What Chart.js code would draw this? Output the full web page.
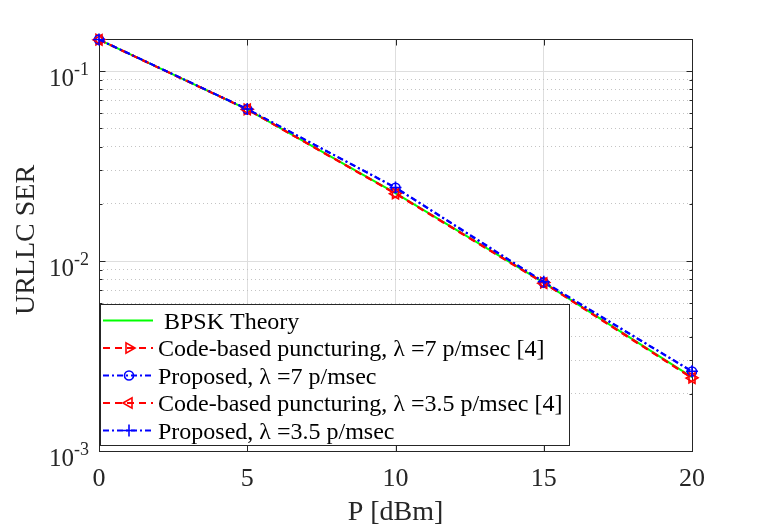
<!DOCTYPE html>
<html>
<head>
<meta charset="utf-8">
<script src="https://cdn.jsdelivr.net/npm/chart.js@4.4.1/dist/chart.umd.min.js"></script>
<style>body{margin:0;background:#fff}</style>
</head>
<body>
<canvas id="serChart" width="765" height="526"></canvas>
<script>
// values
const powerDbm = [0, 5, 10, 15, 20];
const bpskTheory = [0.1465, 0.0629, 0.0228, 0.00770, 0.00245];
const codeBased7 = [0.1465, 0.0629, 0.0227, 0.00770, 0.00243];
const proposed7 = [0.1465, 0.0630, 0.0243, 0.00772, 0.00262];
const codeBased35 = [0.1460, 0.0628, 0.0226, 0.00765, 0.00242];
const proposed35 = [0.1465, 0.0631, 0.0244, 0.00778, 0.00263];

const seriesLabels = [
  'BPSK Theory',
  'Code-based puncturing, \u03bb =7 p/msec [4]',
  'Proposed, \u03bb =7 p/msec',
  'Code-based puncturing, \u03bb =3.5 p/msec [4]',
  'Proposed, \u03bb =3.5 p/msec'
];
const xTickValues = [0, 5, 10, 15, 20];
const yDecades = [1e-3, 1e-2, 1e-1];
const yDecadeExponents = ['-3', '-2', '-1'];

const serif = '"Liberation Serif", "Times New Roman", serif';
const axisInk = '#262626';

const toPoints = arr => arr.map((v, i) => ({x: powerDbm[i], y: v}));

const isDecade = v => Math.abs(Math.log10(v) - Math.round(Math.log10(v))) < 1e-9;

const datasets = [
  {label: seriesLabels[0], data: toPoints(bpskTheory), borderColor: '#00ff00', borderWidth: 2,
   pointRadius: 0, borderDash: [], order: 5},
  {label: seriesLabels[1], data: toPoints(codeBased7), borderColor: '#ff0000', borderWidth: 2,
   borderDash: [7, 5], pointStyle: 'triangle', pointRotation: 90, pointRadius: 6, order: 4},
  {label: seriesLabels[2], data: toPoints(proposed7), borderColor: '#0000ff', borderWidth: 2,
   borderDash: [6, 3, 2, 3], pointStyle: 'circle', pointRadius: 4.5, order: 3},
  {label: seriesLabels[3], data: toPoints(codeBased35), borderColor: '#ff0000', borderWidth: 2,
   borderDash: [7, 5], pointStyle: 'triangle', pointRotation: -90, pointRadius: 6, order: 2},
  {label: seriesLabels[4], data: toPoints(proposed35), borderColor: '#0000ff', borderWidth: 2,
   borderDash: [6, 3, 2, 3], pointStyle: 'cross', pointRadius: 6, order: 1}
];
datasets.forEach(d => {
  d.pointBorderColor = d.borderColor;
  d.pointBackgroundColor = 'rgba(0,0,0,0)';
  d.pointBorderWidth = 1.6;
  d.tension = 0;
  d.clip = false;
});

// axes box, inward ticks, tick labels and titles
const matlabAxes = {
  id: 'matlabAxes',
  beforeDatasetsDraw(chart) {
    const {ctx, chartArea: a, scales: {x, y}} = chart;
    ctx.save();
    ctx.strokeStyle = axisInk;
    ctx.lineWidth = 1;
    const L = Math.round(a.left) + 0.5, R = Math.round(a.right) + 0.5;
    const T = Math.round(a.top) + 0.5, B = Math.round(a.bottom) + 0.5;
    ctx.strokeRect(L, T, R - L, B - T);
    ctx.beginPath();
    xTickValues.forEach(v => {
      const px = Math.round(x.getPixelForValue(v)) + 0.5;
      ctx.moveTo(px, B); ctx.lineTo(px, B - 6);
      ctx.moveTo(px, T); ctx.lineTo(px, T + 6);
    });
    y.ticks.forEach(t => {
      const py = Math.round(y.getPixelForValue(t.value)) + 0.5;
      const len = isDecade(t.value) ? 6 : 3;
      ctx.moveTo(L, py); ctx.lineTo(L + len, py);
      ctx.moveTo(R, py); ctx.lineTo(R - len, py);
    });
    ctx.stroke();

    ctx.fillStyle = axisInk;
    ctx.textBaseline = 'alphabetic';
    ctx.font = '26px ' + serif;
    ctx.textAlign = 'center';
    xTickValues.forEach(v => {
      ctx.fillText(String(v), x.getPixelForValue(v), a.bottom + 35);
    });
    yDecades.forEach((v, i) => {
      const py = y.getPixelForValue(v);
      ctx.textAlign = 'left';
      ctx.font = '18px ' + serif;
      const wExp = ctx.measureText(yDecadeExponents[i]).width;
      ctx.font = '25px ' + serif;
      const wBase = ctx.measureText('10').width;
      const right = a.left - 10;
      ctx.fillText('10', right - wExp - wBase, py + 15);
      ctx.font = '18px ' + serif;
      ctx.fillText(yDecadeExponents[i], right - wExp, py + 4);
    });

    ctx.font = '28px ' + serif;
    ctx.textAlign = 'center';
    ctx.fillText('P [dBm]', (a.left + a.right) / 2, 520);
    ctx.translate(34, 240);
    ctx.rotate(-Math.PI / 2);
    ctx.fillText('URLLC SER', 0, 0);
    ctx.restore();
  },
  afterDraw(chart) {
    const {ctx} = chart;
    const box = {left: 100, top: 304, right: 569, bottom: 445};
    ctx.save();
    ctx.fillStyle = '#ffffff';
    ctx.fillRect(box.left, box.top, box.right - box.left, box.bottom - box.top);
    ctx.strokeStyle = axisInk;
    ctx.lineWidth = 1;
    ctx.strokeRect(box.left + 0.5, box.top + 0.5, box.right - box.left, box.bottom - box.top);
    chart.data.datasets.forEach((ds, i) => {
      const cy = 320.5 + i * 27.5;
      ctx.save();
      ctx.strokeStyle = ds.borderColor;
      ctx.lineWidth = ds.borderWidth;
      ctx.setLineDash(ds.borderDash || []);
      ctx.beginPath();
      ctx.moveTo(103, cy); ctx.lineTo(153, cy);
      ctx.stroke();
      ctx.restore();
      if (ds.pointRadius > 0) {
        ctx.save();
        ctx.strokeStyle = ds.borderColor;
        ctx.fillStyle = 'rgba(0,0,0,0)';
        ctx.lineWidth = ds.pointBorderWidth;
        Chart.helpers.drawPoint(ctx, {pointStyle: ds.pointStyle, rotation: ds.pointRotation || 0,
          radius: ds.pointRadius, borderWidth: ds.pointBorderWidth}, 129, cy);
        ctx.restore();
      }
      ctx.fillStyle = '#000000';
      ctx.font = '24px ' + serif;
      ctx.textAlign = 'left';
      ctx.fillText(ds.label, i === 0 ? 164 : 158, cy + 8);
    });
    ctx.restore();
  }
};

new Chart(document.getElementById('serChart'), {
  type: 'line',
  data: {datasets},
  options: {
    responsive: false,
    animation: false,
    devicePixelRatio: 1,
    layout: {padding: {top: 39, right: 73, left: 0, bottom: 0}},
    plugins: {legend: {display: false}, tooltip: {enabled: false}},
    scales: {
      x: {
        type: 'linear', min: 0, max: 20,
        afterBuildTicks: s => { s.ticks = xTickValues.map(v => ({value: v})); },
        afterFit: s => { s.height = 75; },
        ticks: {display: false},
        grid: {color: '#dedede', lineWidth: 1, drawTicks: false},
        border: {display: false}
      },
      y: {
        type: 'logarithmic', min: 0.001, max: 0.1475,
        afterBuildTicks: s => {
          const t = [];
          for (let e = -3; e <= -1; e++) {
            for (let k = 1; k <= 9; k++) {
              const v = k * Math.pow(10, e);
              if (v <= s.max + 1e-12) t.push({value: v});
            }
          }
          s.ticks = t;
        },
        afterFit: s => { s.width = 99; },
        ticks: {display: false},
        grid: {
          drawTicks: false,
          lineWidth: 1,
          color: c => (c.tick && isDecade(c.tick.value)) ? '#dedede' : '#c4c4c4'
        },
        border: {
          display: false,
          dash: c => (c.tick && isDecade(c.tick.value)) ? [] : [1, 3]
        }
      }
    }
  },
  plugins: [matlabAxes]
});
</script>
</body>
</html>
